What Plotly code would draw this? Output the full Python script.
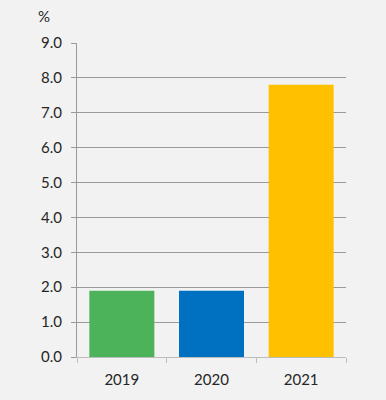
import plotly.graph_objects as go

categories = ["2019", "2020", "2021"]
values = [1.9, 1.9, 7.8]
colors = ["#4cb35a", "#0070c0", "#ffc000"]
y_ticks = [0, 1, 2, 3, 4, 5, 6, 7, 8, 9]
y_tick_labels = ["0.0", "1.0", "2.0", "3.0", "4.0", "5.0", "6.0", "7.0", "8.0", "9.0"]

font_family = "Lato, Liberation Sans, sans-serif"

fig = go.Figure(go.Bar(x=categories, y=values, marker=dict(color=colors, line=dict(width=0)), hoverinfo="skip"))

W, H = 386, 400
ml, mr, mt, mb = 77, 40, 43, 43
fig.update_layout(
    width=W, height=H,
    margin=dict(l=ml, r=mr, t=mt, b=mb),
    paper_bgcolor="#f2f2f2", plot_bgcolor="#f2f2f2",
    bargap=0.275,
    showlegend=False,
    font=dict(family=font_family, size=15, color="#262626"),
    annotations=[dict(text="%", xref="paper", yref="paper",
                      x=(44 - ml) / (W - ml - mr), y=1 + (mt - 16) / (H - mt - mb),
                      xanchor="center", yanchor="middle", showarrow=False,
                      font=dict(size=15, color="#262626"))],
)

fig.update_yaxes(range=[0, 9], tickvals=y_ticks, ticktext=y_tick_labels,
                 showgrid=True, gridcolor="#9a9a9a", gridwidth=1,
                 showline=True, linecolor="#9a9a9a", linewidth=1,
                 ticks="outside", ticklen=5, tickcolor="#9a9a9a",
                 zeroline=False, fixedrange=True, ticklabelstandoff=6)
fig.update_xaxes(showline=True, linecolor="#bdbdbd", linewidth=1,
                 ticks="outside", ticklen=5, tickcolor="#bdbdbd", tickson="boundaries",
                 showgrid=False, fixedrange=True, ticklabelstandoff=9)

fig.write_html("out.html", config={"displayModeBar": False},
               post_script="document.body.style.margin='0';document.body.style.background='#f2f2f2';")
